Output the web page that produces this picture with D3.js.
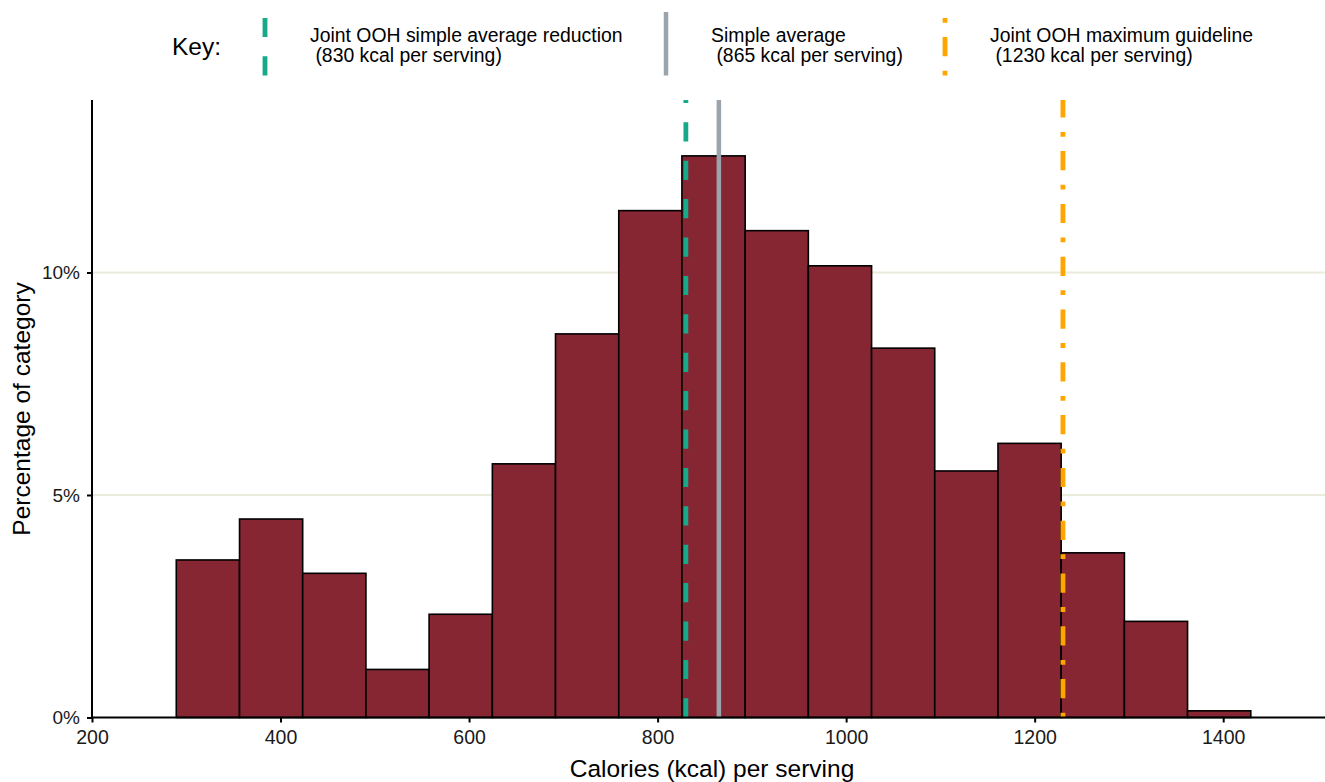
<!DOCTYPE html>
<html>
<head>
<meta charset="utf-8">
<script src="https://cdn.jsdelivr.net/npm/d3@7"></script>
<style>
  html, body { margin: 0; padding: 0; background: #fff; }
  svg { display: block; font-family: "Liberation Sans", Arial, sans-serif; }
</style>
</head>
<body>
<svg id="chart" width="1325" height="782"></svg>
<script>
// ---- Data ----
const binEdges = [289.4, 356.5, 423.5, 490.6, 557.6, 624.7, 691.7, 758.8, 825.8, 892.9,
                  959.9, 1027.0, 1094.0, 1161.1, 1228.1, 1295.2, 1362.2, 1429.3];
const binPercent = [3.54, 4.46, 3.24, 1.08, 2.32, 5.70, 8.62, 11.39, 12.62, 10.94,
                    10.15, 8.30, 5.54, 6.16, 3.70, 2.16, 0.15];
const xTicks = [200, 400, 600, 800, 1000, 1200, 1400];
const yTicks = [0, 5, 10];
const refNames = ["Joint OOH simple average reduction", "Simple average", "Joint OOH maximum guideline"];
const refSub = [" (830 kcal per serving)", " (865 kcal per serving)", " (1230 kcal per serving)"];
const refValues = [830, 865, 1230];
const refColors = ["#16A98A", "#9BA4AD", "#FFA500"];
const refDash = ["19.2,19.2", null, "4.8,14.4,19.2,14.4"];

// ---- Layout ----
const svg = d3.select("#chart");
const x = d3.scaleLinear().domain([200, 1508]).range([92, 1325]);
const y = d3.scaleLinear().domain([0, 13.876]).range([717.5, 100]);
const FONT = "Liberation Sans, Arial, sans-serif";

// gridlines
svg.append("g").selectAll("line").data(yTicks.filter(d => d > 0)).join("line")
  .attr("x1", 92).attr("x2", 1325)
  .attr("y1", d => y(d)).attr("y2", d => y(d))
  .attr("stroke", "#ebebdc").attr("stroke-width", 2);

// bars
const bins = binPercent.map((v, i) => ({x0: binEdges[i], x1: binEdges[i + 1], v}));
svg.append("g").selectAll("rect").data(bins).join("rect")
  .attr("x", d => x(d.x0))
  .attr("y", d => y(d.v))
  .attr("width", d => x(d.x1) - x(d.x0))
  .attr("height", d => y(0) - y(d.v))
  .attr("fill", "#862633")
  .attr("stroke", "#000")
  .attr("stroke-width", 1.6);

// reference lines (drawn from bottom upward)
const refs = refValues.map((v, i) => ({v, c: refColors[i], dash: refDash[i]}));
svg.append("g").selectAll("line").data(refs).join("line")
  .attr("x1", d => x(d.v)).attr("x2", d => x(d.v))
  .attr("y1", y(0)).attr("y2", 100)
  .attr("stroke", d => d.c)
  .attr("stroke-width", d => d.dash ? 4.8 : 4.5)
  .attr("stroke-dasharray", d => d.dash);

// axes
const xAxis = d3.axisBottom(x).tickValues(xTicks).tickSize(5).tickPadding(8).tickFormat(d3.format("d"));
const gx = svg.append("g").attr("transform", `translate(0,${y(0)})`).call(xAxis);
gx.select(".domain").attr("d", `M92,0H1325`).attr("stroke", "#000").attr("stroke-width", 2);
gx.selectAll(".tick line").attr("stroke", "#000").attr("stroke-width", 2);
gx.selectAll(".tick text").attr("font-size", 19.5).attr("fill", "#1a1a1a").attr("font-family", FONT);

const yAxis = d3.axisLeft(y).tickValues(yTicks).tickSize(5).tickPadding(7).tickFormat(d => d + "%");
const gy = svg.append("g").attr("transform", `translate(92,0)`).call(yAxis);
gy.select(".domain").attr("d", `M0,${y(0)}V100`).attr("stroke", "#000").attr("stroke-width", 2);
gy.selectAll(".tick line").attr("stroke", "#000").attr("stroke-width", 2);
gy.selectAll(".tick text").attr("font-size", 19).attr("fill", "#1a1a1a").attr("font-family", FONT);

// axis titles
svg.append("text").attr("x", 712).attr("y", 777).attr("text-anchor", "middle")
  .attr("font-size", 24.5).attr("fill", "#000").text("Calories (kcal) per serving");
svg.append("text").attr("transform", "translate(29.5,409) rotate(-90)").attr("text-anchor", "middle")
  .attr("font-size", 24.5).attr("fill", "#000").text("Percentage of category");

// legend
svg.append("text").attr("x", 172).attr("y", 54.5).attr("font-size", 24.5).attr("fill", "#000").text("Key:");
const keyX = [265, 666, 945];
const textX = [310, 711, 990];
refs.forEach((d, i) => {
  svg.append("line")
    .attr("x1", keyX[i]).attr("x2", keyX[i])
    .attr("y1", 75.5).attr("y2", 12)
    .attr("stroke", d.c)
    .attr("stroke-width", d.dash ? 4.8 : 4.5)
    .attr("stroke-dasharray", d.dash);
  const t = svg.append("text").attr("font-size", 19.4).attr("fill", "#000")
    .attr("xml:space", "preserve").style("white-space", "pre");
  t.append("tspan").attr("x", textX[i]).attr("y", 41.5).text(refNames[i]);
  t.append("tspan").attr("x", textX[i]).attr("y", 62).text(refSub[i]);
});
</script>
</body>
</html>
